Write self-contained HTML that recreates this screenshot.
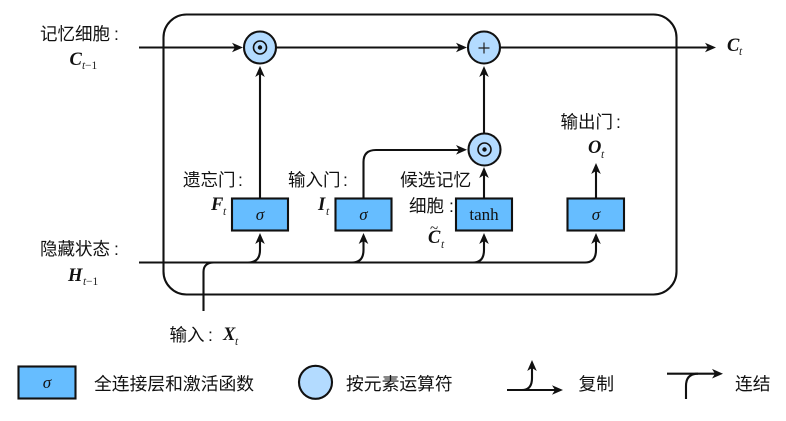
<!DOCTYPE html>
<html>
<head>
<meta charset="utf-8">
<style>
html,body{margin:0;padding:0;background:#fff;width:786px;height:421px;overflow:hidden}
svg{display:block}
.c{font-family:"Liberation Sans","Noto Sans CJK SC",sans-serif;font-size:17.5px;fill:#111}
.d{font-family:"Liberation Sans","Noto Sans CJK SC",sans-serif;font-size:17.8px;fill:#111}
.b{font-family:"Liberation Serif",serif;font-weight:bold;font-style:italic;font-size:18.5px;fill:#111}
.s{font-family:"Liberation Serif",serif;font-style:italic;font-size:11.5px;fill:#222}
.n{font-family:"Liberation Serif",serif;font-size:11.5px;fill:#222}
.g{font-family:"Liberation Serif",serif;font-style:italic;font-size:17px;fill:#111}
.l{fill:none;stroke:#111;stroke-width:2.1}
.box{fill:#66bdff;stroke:#111;stroke-width:2.1}
.cir{fill:#b3dbff;stroke:#111;stroke-width:2.1}
</style>
</head>
<body>
<svg width="786" height="421" viewBox="0 0 786 421" xmlns="http://www.w3.org/2000/svg">
<defs>
<g id="ar"><path d="M0 0L-11 -4.800L-8 0L-11 4.800Z" fill="#111"/></g>
</defs>

<rect x="163.500" y="14.500" width="513" height="280" rx="23" ry="23" class="l"/>

<!-- lines -->
<path class="l" d="M139 47.500H236"/>
<use href="#ar" transform="translate(243,47.500)"/>
<path class="l" d="M276 47.500H460"/>
<use href="#ar" transform="translate(467,47.500)"/>
<path class="l" d="M500 47.500H708"/>
<use href="#ar" transform="translate(716,47.500)"/>
<path class="l" d="M260 198V72"/>
<use href="#ar" transform="translate(260,66) rotate(-90)"/>
<path class="l" d="M484 133V72"/>
<use href="#ar" transform="translate(484,66) rotate(-90)"/>
<path class="l" d="M484 198V174"/>
<use href="#ar" transform="translate(484,167) rotate(-90)"/>
<path class="l" d="M363.500 198V162Q363.500 150 376 150H460"/>
<use href="#ar" transform="translate(467,149.800)"/>
<path class="l" d="M596 198V170"/>
<use href="#ar" transform="translate(596,163) rotate(-90)"/>
<path class="l" d="M139 262.500H585Q596 262.500 596 250V240"/>
<use href="#ar" transform="translate(596,233) rotate(-90)"/>
<path class="l" d="M203.500 311V272Q203.500 262.500 214 262.500H248Q260 262.500 260 250V240"/>
<use href="#ar" transform="translate(260,233) rotate(-90)"/>
<path class="l" d="M352 262.500Q363.500 262.500 363.500 250V240"/>
<use href="#ar" transform="translate(363.500,233) rotate(-90)"/>
<path class="l" d="M473 262.500Q484 262.500 484 250V240"/>
<use href="#ar" transform="translate(484,233) rotate(-90)"/>

<!-- circles -->
<circle cx="260" cy="47.500" r="16" class="cir"/>
<circle cx="260" cy="47.500" r="6.500" fill="none" stroke="#111" stroke-width="1.600"/>
<circle cx="260" cy="47.500" r="2.200" fill="#111"/>
<circle cx="484" cy="47.500" r="16" class="cir"/>
<path d="M478.500 48H489.500M484 42.500V53.500" stroke="#222" stroke-width="1.200" fill="none"/>
<circle cx="484.500" cy="149.500" r="16" class="cir"/>
<circle cx="484.500" cy="149.500" r="6.500" fill="none" stroke="#111" stroke-width="1.600"/>
<circle cx="484.500" cy="149.500" r="2.200" fill="#111"/>

<!-- boxes -->
<rect x="232" y="198.500" width="56" height="32" class="box"/>
<rect x="335.500" y="198.500" width="56" height="32" class="box"/>
<rect x="456" y="198.500" width="56" height="32" class="box"/>
<rect x="567.500" y="198.500" width="56.500" height="32" class="box"/>
<text x="260" y="220" text-anchor="middle" class="g">σ</text>
<text x="363.500" y="220" text-anchor="middle" class="g">σ</text>
<text x="484" y="220" text-anchor="middle" font-family="Liberation Serif, serif" font-size="17" fill="#111">tanh</text>
<text x="596" y="220" text-anchor="middle" class="g">σ</text>

<!-- labels -->
<text x="40" y="40" class="c">记忆细胞<tspan x="114">:</tspan></text>
<text x="69.500" y="65" class="b">C</text>
<text x="82" y="69" class="s">t</text><text x="85" y="69" class="n">−1</text>

<text x="40" y="255" class="c">隐藏状态<tspan x="114">:</tspan></text>
<text x="68" y="281" class="b">H</text>
<text x="83" y="285" class="s">t</text><text x="86" y="285" class="n">−1</text>

<text x="183" y="186" class="c">遗忘门<tspan x="238">:</tspan></text>
<text x="211" y="210" class="b">F</text>
<text x="223" y="215" class="s">t</text>

<text x="288" y="186" class="c">输入门<tspan x="343">:</tspan></text>
<text x="318" y="210" class="b">I</text>
<text x="326" y="215" class="s">t</text>

<text x="400" y="186" class="d">候选记忆</text>
<text x="409" y="212" class="c">细胞<tspan x="449">:</tspan></text>
<text x="428" y="243" class="b">C</text>
<text x="430" y="233" font-family="Liberation Serif, serif" font-size="15" fill="#111">~</text>
<text x="441" y="248" class="s">t</text>

<text x="560.500" y="128" class="c">输出门<tspan x="616">:</tspan></text>
<text x="588" y="153" class="b">O</text>
<text x="601" y="158" class="s">t</text>

<text x="727" y="51" class="b">C</text>
<text x="739" y="55" class="s">t</text>

<text x="169.500" y="341" class="c">输入<tspan x="208">:</tspan></text>
<text x="223" y="340" class="b">X</text>
<text x="235" y="345" class="s">t</text>

<!-- legend -->
<rect x="18.500" y="366.500" width="57" height="32" class="box"/>
<text x="47" y="388" text-anchor="middle" class="g">σ</text>
<text x="94" y="390" class="d">全连接层和激活函数</text>
<circle cx="315.500" cy="382.300" r="16.500" class="cir"/>
<text x="346" y="390" class="d">按元素运算符</text>

<path class="l" d="M507 390H555"/>
<use href="#ar" transform="translate(563,390)"/>
<path class="l" d="M522 390Q532 390 532 378V368"/>
<use href="#ar" transform="translate(532,360) rotate(-90)"/>
<text x="578.500" y="390" class="d">复制</text>

<path class="l" d="M667 373.700H715"/>
<use href="#ar" transform="translate(723,373.700)"/>
<path class="l" d="M686 399V386Q686 373.700 698 373.700"/>
<text x="735" y="390" class="d">连结</text>
</svg>
</body>
</html>
